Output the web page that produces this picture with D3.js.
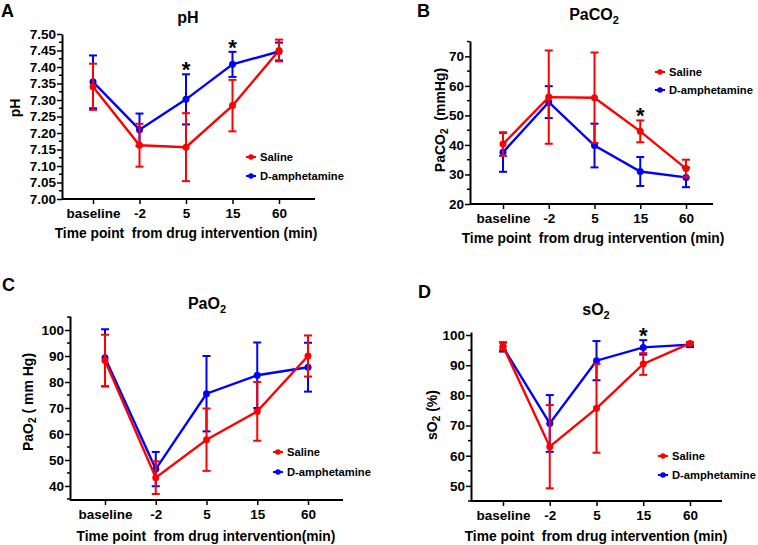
<!DOCTYPE html>
<html>
<head>
<meta charset="utf-8">
<script src="https://cdn.jsdelivr.net/npm/d3@7"></script>
<style>
  body { margin: 0; background: #fff; }
  svg { font-family: "Liberation Sans", Arial, sans-serif; font-weight: bold; }
  text { white-space: pre; }
</style>
</head>
<body>
<div id="chart"></div>
<script>
// time points
var categories = ["baseline", "-2", "5", "15", "60"];

// pH
var phSaline = [7.34, 7.163, 7.157, 7.283, 7.45];
var phSalineSd = [0.07, 0.065, 0.103, 0.078, 0.033];
var phAmph = [7.355, 7.21, 7.302, 7.408, 7.447];
var phAmphSd = [0.08, 0.049, 0.076, 0.038, 0.027];
var phTicks = [7.00, 7.05, 7.10, 7.15, 7.20, 7.25, 7.30, 7.35, 7.40, 7.45, 7.50];
var phStars = [2, 3];

// PaCO2
var co2Saline = [40.3, 56.2, 56.0, 44.6, 32.0];
var co2SalineSd = [4.0, 15.8, 15.3, 3.7, 3.0];
var co2Amph = [37.5, 54.5, 39.8, 31.0, 29.0];
var co2AmphSd = [6.6, 5.4, 7.4, 4.9, 3.3];
var co2Ticks = [20, 30, 40, 50, 60, 70];
var co2Stars = [3];

// PaO2
var o2Saline = [88.3, 43.2, 57.8, 68.7, 90.0];
var o2SalineSd = [9.9, 6.3, 12.0, 11.3, 7.9];
var o2Amph = [89.3, 46.5, 75.5, 82.6, 85.7];
var o2AmphSd = [11.0, 6.6, 14.5, 12.6, 9.4];
var o2Ticks = [40, 50, 60, 70, 80, 90, 100];
var o2Stars = [];

// sO2
var so2Saline = [96.3, 63.0, 75.7, 90.4, 97.2];
var so2SalineSd = [1.3, 13.8, 14.7, 3.6, 0.5];
var so2Amph = [96.0, 70.7, 91.5, 95.9, 96.8];
var so2AmphSd = [1.5, 9.4, 6.5, 2.4, 0.8];
var so2Ticks = [50, 60, 70, 80, 90, 100];
var so2Stars = [3];

var RED = "#ff0000", BLUE = "#0000ff";

var svg = d3.select("#chart").append("svg")
  .attr("width", 758)
  .attr("height", 545);

function drawPanel(p) {
  var g = svg.append("g");

  var y = d3.scaleLinear().domain(p.yDomain).range([p.y1, p.y0]);
  var x = d3.scalePoint().domain(categories).range([p.x0 + p.padL, p.x0 + p.padR]);

  // minor ticks
  var minor = [];
  for (var i = 0; i < p.ticks.length; i++) {
    var m = p.ticks[i] + p.minorStep;
    if (m <= p.yDomain[1] + 1e-9) minor.push(m);
    if (i == 0 && p.ticks[0] - p.minorStep >= p.yDomain[0] - 1e-9) minor.push(p.ticks[0] - p.minorStep);
  }
  g.selectAll(".minor").data(minor).enter().append("line")
    .attr("x1", p.x0 - 3).attr("x2", p.x0)
    .attr("y1", d => y(d)).attr("y2", d => y(d))
    .attr("stroke", "#000").attr("stroke-width", 1.5);

  var yAxis = g.append("g")
    .attr("transform", "translate(" + p.x0 + ",0)")
    .call(d3.axisLeft(y).tickValues(p.ticks).tickFormat(p.fmt).tickSize(5).tickPadding(1).tickSizeOuter(0));
  var xAxis = g.append("g")
    .attr("transform", "translate(0," + p.y1 + ")")
    .call(d3.axisBottom(x).tickSize(5).tickPadding(4).tickSizeOuter(0));
  xAxis.select(".domain").attr("d", "M" + p.x0 + ",0H" + p.x1);

  [yAxis, xAxis].forEach(function(a) {
    a.select(".domain").attr("stroke-width", 2);
    a.selectAll(".tick line").attr("stroke-width", 1.5);
    a.selectAll("text").attr("font-size", 13.5).attr("font-weight", "bold")
      .attr("font-family", "Liberation Sans, Arial, sans-serif").attr("fill", "#000");
  });

  var series = [
    { mean: p.amph, sd: p.amphSd, color: BLUE },
    { mean: p.saline, sd: p.salineSd, color: RED }
  ];

  series.forEach(function(s) {
    var pts = categories.map((c, i) => ({ c: c, m: s.mean[i], sd: s.sd[i] }));
    var line = d3.line().x(d => x(d.c)).y(d => y(d.m));
    g.append("path").datum(pts)
      .attr("d", line).attr("fill", "none")
      .attr("stroke", s.color).attr("stroke-width", 2.4);
    var eb = g.selectAll(null).data(pts).enter().append("g").attr("stroke", s.color).attr("stroke-width", 2);
    eb.append("line")
      .attr("x1", d => x(d.c)).attr("x2", d => x(d.c))
      .attr("y1", d => y(d.m - d.sd)).attr("y2", d => y(d.m + d.sd));
    eb.append("line")
      .attr("x1", d => x(d.c) - 4).attr("x2", d => x(d.c) + 4)
      .attr("y1", d => y(d.m - d.sd)).attr("y2", d => y(d.m - d.sd));
    eb.append("line")
      .attr("x1", d => x(d.c) - 4).attr("x2", d => x(d.c) + 4)
      .attr("y1", d => y(d.m + d.sd)).attr("y2", d => y(d.m + d.sd));
    g.selectAll(null).data(pts).enter().append("circle")
      .attr("cx", d => x(d.c)).attr("cy", d => y(d.m))
      .attr("r", 3.5).attr("fill", s.color);
  });

  // significance stars
  g.selectAll(".star").data(p.stars).enter().append("text")
    .attr("x", i => x(categories[i]))
    .attr("y", i => Math.min(y(p.saline[i] + p.salineSd[i]), y(p.amph[i] + p.amphSd[i])) + 3)
    .attr("text-anchor", "middle")
    .attr("font-size", 22)
    .text("*");

  // panel letter
  g.append("text").attr("x", p.letterX).attr("y", p.letterY)
    .attr("font-size", 18).text(p.letter);

  // title
  var t = g.append("text").attr("x", p.titleX).attr("y", p.titleY)
    .attr("text-anchor", "middle").attr("font-size", 16);
  t.append("tspan").text(p.title[0]);
  if (p.title[1]) {
    t.append("tspan").attr("font-size", 11).attr("dy", 4).text(p.title[1]);
  }

  // y label
  var yl = g.append("text")
    .attr("transform", "translate(" + p.ylabX + "," + p.ylabY + ") rotate(-90)")
    .attr("text-anchor", "middle").attr("dominant-baseline", "central")
    .attr("font-size", 14);
  yl.append("tspan").text(p.ylab[0]);
  if (p.ylab[1]) {
    yl.append("tspan").attr("font-size", 10).attr("dy", 4).text(p.ylab[1]);
    yl.append("tspan").attr("dy", -4).text(p.ylab[2]);
  }

  // x title
  g.append("text").attr("x", p.xlabX).attr("y", p.xlabY)
    .attr("text-anchor", "middle").attr("font-size", 13.8).text(p.xlab);

  // legend
  var leg = [{ name: "Saline", color: RED }, { name: "D-amphetamine", color: BLUE }];
  leg.forEach(function(l, i) {
    var cy = p.legY[i];
    g.append("line").attr("x1", p.legX - 5).attr("x2", p.legX + 5)
      .attr("y1", cy).attr("y2", cy).attr("stroke", l.color).attr("stroke-width", 2);
    g.append("circle").attr("cx", p.legX).attr("cy", cy).attr("r", 2.8).attr("fill", l.color);
    g.append("text").attr("x", p.legX + 9).attr("y", cy + 4.2)
      .attr("font-size", 11.2).text(l.name);
  });
}

drawPanel({
  letter: "A", letterX: 1, letterY: 17,
  title: ["pH"], titleX: 188, titleY: 23,
  x0: 62, x1: 315, padL: 31, padR: 217,
  y0: 34, y1: 199, yDomain: [7.0, 7.5],
  ticks: phTicks, minorStep: 0.025, fmt: d3.format(".2f"),
  saline: phSaline, salineSd: phSalineSd, amph: phAmph, amphSd: phAmphSd,
  stars: phStars,
  ylab: ["pH"], ylabX: 15, ylabY: 108,
  xlab: "Time point  from drug intervention (min)", xlabX: 186, xlabY: 238,
  legX: 251, legY: [157, 176]
});

drawPanel({
  letter: "B", letterX: 417, letterY: 17,
  title: ["PaCO", "2"], titleX: 594, titleY: 20,
  x0: 470, x1: 713, padL: 33, padR: 216,
  y0: 41, y1: 204, yDomain: [20, 75.2],
  ticks: co2Ticks, minorStep: 5, fmt: d3.format("d"),
  saline: co2Saline, salineSd: co2SalineSd, amph: co2Amph, amphSd: co2AmphSd,
  stars: co2Stars,
  ylab: ["PaCO", "2", "  (mmHg)"], ylabX: 440, ylabY: 120,
  xlab: "Time point  from drug intervention (min)", xlabX: 593, xlabY: 243,
  legX: 660, legY: [72, 90]
});

drawPanel({
  letter: "C", letterX: 2, letterY: 291,
  title: ["PaO", "2"], titleX: 207, titleY: 309,
  x0: 70, x1: 343, padL: 35, padR: 238,
  y0: 316, y1: 500, yDomain: [34.6, 105.4],
  ticks: o2Ticks, minorStep: 5, fmt: d3.format("d"),
  saline: o2Saline, salineSd: o2SalineSd, amph: o2Amph, amphSd: o2AmphSd,
  stars: o2Stars,
  ylab: ["PaO", "2", " ( mm Hg)"], ylabX: 28, ylabY: 402,
  xlab: "Time point  from drug intervention(min)", xlabX: 206, xlabY: 541,
  legX: 278, legY: [452, 472]
});

drawPanel({
  letter: "D", letterX: 418, letterY: 298,
  title: ["sO", "2"], titleX: 596, titleY: 315,
  x0: 471, x1: 722, padL: 32, padR: 219,
  y0: 332, y1: 501, yDomain: [45, 101],
  ticks: so2Ticks, minorStep: 5, fmt: d3.format("d"),
  saline: so2Saline, salineSd: so2SalineSd, amph: so2Amph, amphSd: so2AmphSd,
  stars: so2Stars,
  ylab: ["sO", "2", " (%)"], ylabX: 432, ylabY: 415,
  xlab: "Time point  from drug intervention (min)", xlabX: 596, xlabY: 541,
  legX: 663, legY: [456, 475]
});
</script>
</body>
</html>
